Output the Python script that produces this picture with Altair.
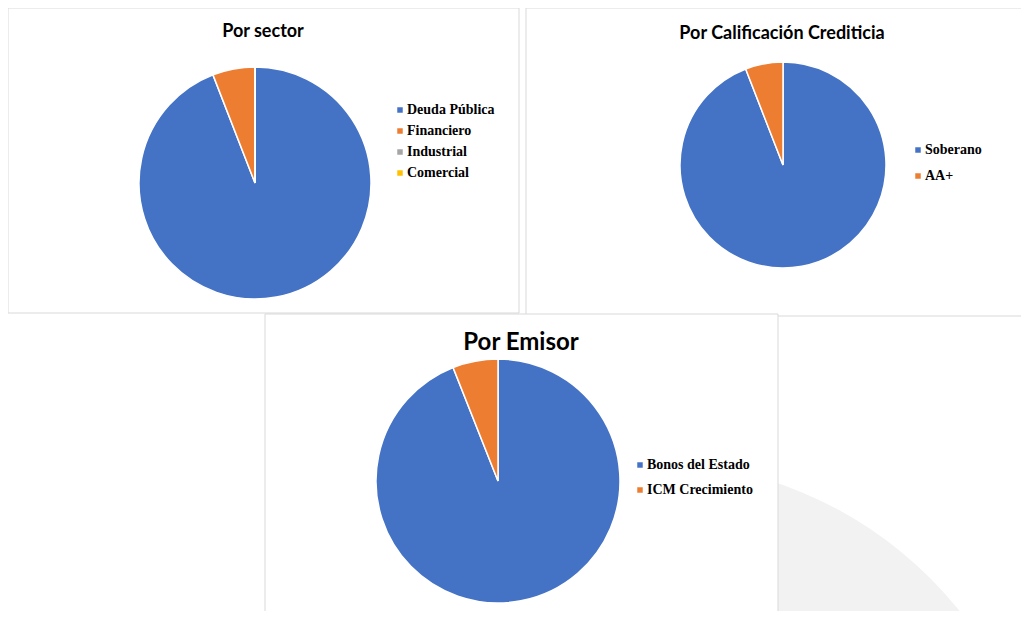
import altair as alt
import pandas as pd

# ---- data ----
sector_cats = ["Deuda Pública", "Financiero", "Industrial", "Comercial"]
sector_vals = [94.1, 5.9, 0.0, 0.0]
sector_colors = ["#4472C4", "#ED7D31", "#A5A5A5", "#FFC000"]

calif_cats = ["Soberano", "AA+"]
calif_vals = [94.1, 5.9]
calif_colors = ["#4472C4", "#ED7D31"]

emisor_cats = ["Bonos del Estado", "ICM Crecimiento"]
emisor_vals = [94.0, 6.0]
emisor_colors = ["#4472C4", "#ED7D31"]

titles = ["Por sector", "Por Calificación Crediticia", "Por Emisor"]

W, H = 1013, 603


def panel(x0, y0, x1, y1):
    df = pd.DataFrame({"x0": [x0], "x1": [x1], "y0": [y0], "y1": [y1]})
    return alt.Chart(df).mark_rect(fill="white", stroke="#d9d9d9", strokeWidth=1).encode(
        x=alt.X("x0:Q", scale=None), x2="x1",
        y=alt.Y("y0:Q", scale=None), y2="y1")


def title(text, x, y, size):
    df = pd.DataFrame({"t": [text], "x": [x], "y": [y]})
    return alt.Chart(df).mark_text(font="Lato", fontWeight="bold", fontSize=size,
                                   color="#000000", align="center", baseline="middle").encode(
        x=alt.X("x:Q", scale=None), y=alt.Y("y:Q", scale=None), text="t:N")


def pie(cats, vals, colors, cx, cy, r, lx, ly, rowpad):
    df = pd.DataFrame({"cat": cats, "value": vals, "idx": list(range(len(cats)))})
    return alt.Chart(df).mark_arc(radius=r, stroke="white", strokeWidth=1.5).encode(
        theta=alt.Theta("value:Q", stack=True),
        order=alt.Order("idx:Q"),
        color=alt.Color("cat:N", sort=cats,
                        scale=alt.Scale(domain=cats, range=colors),
                        legend=alt.Legend(orient="none", legendX=lx, legendY=ly, title=None,
                                          symbolType="square", symbolSize=30,
                                          symbolStrokeWidth=0,
                                          labelFont="Liberation Serif", labelFontWeight="bold",
                                          labelFontSize=14, labelColor="#000000",
                                          rowPadding=rowpad, labelOffset=0)),
        x=alt.value(cx), y=alt.value(cy))


# faint decorative background shape
bg = alt.Chart(pd.DataFrame({"v": [1]})).mark_arc(
    radius=396, fill="#f2f2f2", theta=0, theta2=6.2832
).encode(x=alt.value(642), y=alt.value(850))

layers = [
    bg,
    panel(0, 0, 511, 305),
    pie(sector_cats, sector_vals, sector_colors, 247, 175, 116, 385, 95, 7),
    title(titles[0], 255, 24, 18),
    panel(518, 0, 1030, 308),
    pie(calif_cats, calif_vals, calif_colors, 775, 157, 103, 903, 135, 12),
    title(titles[1], 774, 26, 18),
    panel(257, 306, 770, 620),
    pie(emisor_cats, emisor_vals, emisor_colors, 490, 473, 122, 625, 450, 11),
    title(titles[2], 513, 335, 24),
]

chart = alt.layer(*layers).resolve_scale(
    theta="independent", color="independent"
).properties(
    width=W, height=H, padding=0, autosize="none"
).configure_view(stroke=None)

chart.save("out.html", embed_options={"renderer": "svg", "actions": False})
